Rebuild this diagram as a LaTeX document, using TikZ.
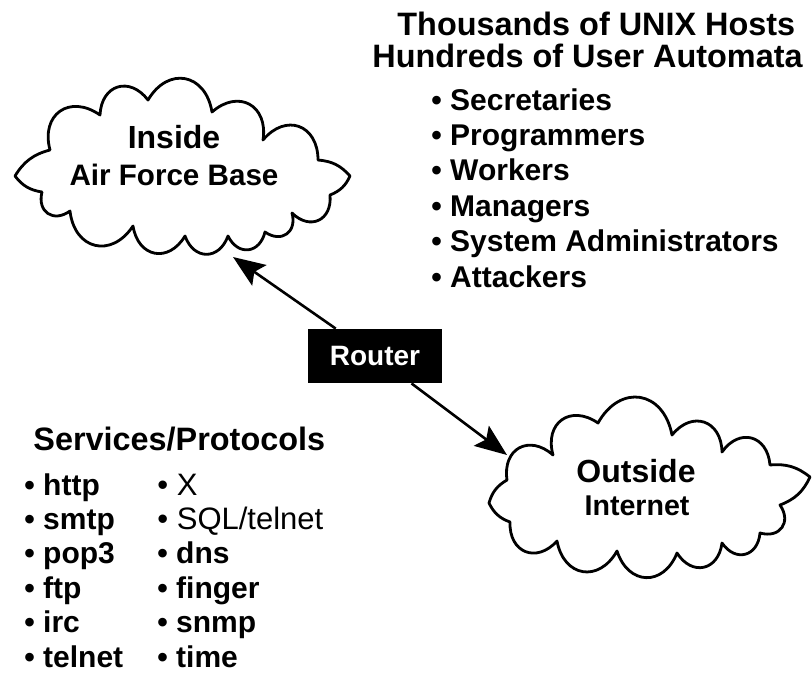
\documentclass[tikz,border=0pt]{standalone}
\usepackage{fontspec}
\setmainfont{Liberation Sans}
\usetikzlibrary{arrows.meta}
\begin{document}
\begin{tikzpicture}[x=0.5pt,y=-0.5pt,
  cloudline/.style={line width=1.4pt, line join=round, fill=white},
  puff/.style={bend left=70, looseness=1.55},
  ear/.style={bend left=22},
  txt/.style={anchor=base west, inner sep=0pt},
  head/.style={txt, font=\bfseries\fontsize{16.2}{19}\selectfont},
  item/.style={txt, font=\bfseries\fontsize{15}{18}\selectfont},
  itemlight/.style={txt, font=\fontsize{15.5}{18}\selectfont},
  cloudbig/.style={anchor=base, inner sep=0pt, font=\bfseries\fontsize{16}{19}\selectfont},
  cloudsmall/.style={anchor=base, inner sep=0pt, font=\bfseries\fontsize{14.8}{18}\selectfont},
  routerbox/.style={fill=black, text=white, minimum width=67pt, minimum height=27pt,
    inner sep=0pt, font=\bfseries\fontsize{14}{17}\selectfont},
  link/.style={line width=1.3pt, -{Stealth[length=16pt, width=12.5pt, inset=3pt]}}
]
\useasboundingbox (0,0) rectangle (812,675);

% Air Force Base cloud
\draw[cloudline] (15,176) to[ear] (50,150) to[puff] (100,115) to[puff] (148,100)
  to[puff] (212,112) to[puff] (263,140) to[puff] (318,160) to[ear] (350,176)
  to[ear] (330,195) to[puff] (292,213) to[puff] (265,232) to[puff] (228,236)
  to[puff] (185,236) to[puff] (133,226) to[puff] (70,211) to[puff] (42,192)
  to[ear] (15,176) -- cycle;

% Internet cloud
\draw[cloudline] (489,503) to[ear] (507,480) to[puff] (553,455) to[puff] (598,423)
  to[puff] (672,435) to[puff] (722,452) to[puff] (770,465) to[ear] (810,477)
  to[ear] (780,505) to[puff] (760,533) to[puff] (722,543) to[puff] (677,553)
  to[puff] (617,551) to[puff] (557,541) to[puff] (510,522) to[ear] (489,503) -- cycle;

\node[cloudbig]   (inside)  at (174,148) {Inside};
\node[cloudsmall] (afb)     at (174,185) {Air Force Base};
\node[cloudbig]   (outside) at (636,482) {Outside};
\node[cloudsmall, font=\bfseries\fontsize{14.3}{17}\selectfont] (internet) at (637,515) {Internet};

% Router and its links
\node[routerbox] (router) at (375,356) {Router};
\coordinate (insidetip) at (233,257);
\coordinate (outsidetip) at (507,455);
\draw[link] (router) -- (insidetip);
\draw[link] (router) -- (outsidetip);

% Hosts and users
\node[head] (hosts) at (397,35) {Thousands of UNIX Hosts};
\node[head] (users) at (372,67) {Hundreds of User Automata};
\node[item] (u1) at (431,110) {• Secretaries};
\node[item] (u2) at (431,145.4) {• Programmers};
\node[item] (u3) at (431,180.8) {• Workers};
\node[item] (u4) at (431,216.2) {• Managers};
\node[item] (u5) at (431,251.6) {• System Administrators};
\node[item] (u6) at (431,287) {• Attackers};

% Services and protocols
\node[head] (svc) at (33,450) {Services/Protocols};
\node[item] (s1) at (24,495) {• http};
\node[item] (s2) at (24,529.4) {• smtp};
\node[item] (s3) at (24,563.8) {• pop3};
\node[item] (s4) at (24,598.2) {• ftp};
\node[item] (s5) at (24,632.6) {• irc};
\node[item] (s6) at (24,667) {• telnet};
\node[itemlight] (t1) at (157,495) {• X};
\node[itemlight] (t2) at (157,529.4) {• SQL/telnet};
\node[item] (t3) at (157,563.8) {• dns};
\node[item] (t4) at (157,598.2) {• finger};
\node[item] (t5) at (157,632.6) {• snmp};
\node[item] (t6) at (157,667) {• time};
\end{tikzpicture}
\end{document}
